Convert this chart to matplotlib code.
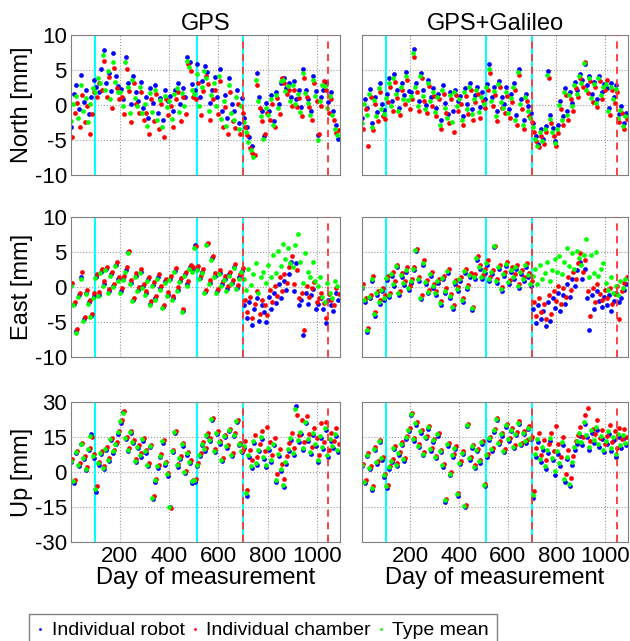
import matplotlib.pyplot as plt
from matplotlib.lines import Line2D

plt.rcParams['font.family'] = ['Liberation Sans', 'DejaVu Sans']
plt.rcParams['axes.unicode_minus'] = False

# sample days (one reading every 10 days, staggered per series)
days_robot = list(range(5, 1095, 10))
days_chamber = list(range(8, 1095, 10))
days_mean = list(range(2, 1092, 10))

# ---- North, GPS ----
north_gps_robot = [
    -3.2, 1.5, 2.8, -0.6, 4.3, 0.4, 2.1, -1.3, 1.2, 3.6,
    2.6, 1.8, 5.1, 7.9, 3.2, 4.6, 2.0, 7.4, 4.1, 2.7,
    2.3, 0.9, 6.9, 3.1, 0.2, 4.2, 1.8, 0.6, 3.3, -0.4,
    1.2, -1.8, 2.4, 0.3, 2.9, -1.1, 1.0, -2.2, 2.1, 0.5,
    1.3, -0.9, 2.2, 3.1, 0.1, 2.4, 1.1, 6.9, 6.2, 3.0,
    2.1, 5.8, 1.2, 3.4, 5.5, 4.7, 0.3, 2.2, 4.0, 1.1,
    5.2, -0.8, 1.4, -1.9, 3.8, 0.2, -0.9, 2.1, -2.6, 1.0,
    -1.8, -3.1, -4.6, -5.9, -7.2, 4.6, 1.2, -0.8, -4.4, 0.3,
    -0.9, 1.4, -2.3, 1.8, 0.2, 3.1, 3.9, 2.4, 3.2, 1.2,
    3.4, 0.8, 2.1, -0.3, 5.2, 2.2, 0.9, -0.9, 4.2, 2.0,
    -4.3, 1.1, 2.2, 3.3, 0.4, 1.9, -0.8, -2.9, -4.8]
north_gps_chamber = [
    -4.6, -1.2, 0.3, -3.1, 1.4, -2.4, -0.2, -4.2, -1.3, 1.8,
    1.1, 3.2, 2.1, 6.3, 1.2, 4.0, -0.4, 5.3, 2.4, 0.9,
    1.2, -1.3, 5.2, 2.0, -2.4, 3.1, 0.1, -1.2, 1.8, -2.1,
    -1.1, -4.2, 0.9, -2.3, 1.6, -3.4, 0.2, -4.6, 0.8, -1.4,
    -0.2, -3.1, 0.8, 1.9, -2.3, 1.1, -1.3, 5.9, 4.8, 1.2,
    0.9, 3.1, -1.4, 2.0, 4.1, 3.0, -2.2, 0.8, 2.2, -1.3,
    3.4, -3.2, -0.3, -4.1, 1.9, -2.3, -3.3, 0.2, -4.2, -1.1,
    -3.2, -4.3, -6.1, -6.8, -7.1, 2.9, -0.4, -2.3, -4.1, -1.2,
    -2.1, 0.2, -3.2, 1.0, -1.3, 3.8, 3.1, 1.6, 2.1, -0.2,
    2.2, -0.3, 1.0, -1.6, 3.9, 1.2, -0.3, -2.1, 3.1, 0.6,
    -4.2, -0.2, 3.4, 2.1, -1.2, 0.8, -2.1, -4.0, -3.6]
north_gps_mean = [
    -2.3, 0.2, 1.3, -1.9, 2.8, -0.9, 1.0, -2.4, 0.1, 2.4,
    1.9, 3.8, 3.2, 7.1, 2.1, 4.9, 0.8, 6.2, 3.3, 1.8,
    1.8, -0.1, 6.1, 2.5, -1.1, 3.5, 1.0, -0.2, 2.5, -1.2,
    0.1, -3.0, 1.7, -1.0, 2.1, -2.2, 0.7, -3.2, 1.3, -0.3,
    0.6, -2.0, 1.5, 2.4, -1.0, 1.7, -0.1, 6.3, 5.4, 2.1,
    1.5, 4.4, -0.1, 2.6, 4.8, 3.8, -0.9, 1.4, 3.2, -0.1,
    4.2, -2.0, 0.6, -3.0, 2.8, -1.1, -2.1, 1.1, -3.4, -0.1,
    -2.4, -3.8, -5.3, -6.4, -7.5, 3.6, 0.6, -1.6, -4.9, -0.4,
    -1.5, 0.8, -2.8, 1.4, -0.5, 3.4, 3.6, 2.0, 2.7, 0.5,
    2.9, 0.2, 1.6, -1.0, 4.6, 1.7, 0.3, -1.5, 3.6, 1.3,
    -5.0, 0.5, 2.8, 2.7, -0.4, 1.3, -1.4, -3.4, -4.3]

# ---- North, GPS+Galileo ----
north_gal_robot = [
    -1.9, 0.8, -0.4, 2.3, -2.6, 1.2, -1.0, 3.2, 0.2, -0.7,
    1.6, 3.8, 0.6, 4.4, 2.2, -0.4, 3.1, 1.4, 4.7, 2.0,
    1.8, 8.0, 3.2, 0.6, 4.6, 2.1, 0.0, 3.6, 1.2, 2.4,
    -0.4, 1.6, -2.1, 2.8, 0.3, -1.3, 1.9, -0.8, 2.2, 0.5,
    1.3, -1.6, 2.4, 0.2, 3.1, -0.6, 1.4, 2.6, -0.3, 1.8,
    0.9, 3.0, 5.8, 1.2, 2.6, -0.9, 3.4, 1.1, 0.2, 2.5,
    -0.6, 1.5, 3.1, -1.4, 5.1, 0.8, -2.1, 1.6, -0.2, -1.1,
    -2.6, -4.4, -5.6, -3.4, -4.8, -3.0, 4.9, -1.4, -3.3, -5.1,
    -2.9, 0.6, -1.6, 2.4, -0.8, 1.9, 0.3, 3.3, 2.1, 4.4,
    3.6, 5.9, 2.8, 4.1, 1.6, 3.3, 0.9, 4.2, 1.8, 3.0,
    2.4, -0.4, 3.1, 1.2, 2.8, -1.3, -0.2, -2.6, -1.1]
north_gal_chamber = [
    -3.4, -0.6, -5.9, 1.1, -3.6, 0.2, -2.3, 1.8, -1.6, -2.0,
    0.4, 2.6, -0.8, 3.3, 1.0, -1.5, 2.2, 0.1, 3.6, -0.6,
    0.9, 6.9, 1.8, -0.8, 3.8, 0.6, -1.2, 2.7, -0.1, 1.3,
    -1.6, 0.8, -3.4, 1.6, -1.1, -2.6, 0.9, -3.9, 1.4, -0.8,
    0.2, -2.9, 1.3, -1.3, 2.2, -2.1, 0.4, 1.6, -1.8, 0.6,
    -0.4, 2.1, 4.6, -0.2, 1.4, -2.3, 2.6, -0.4, -1.2, 1.3,
    -1.8, 0.4, 2.1, -2.8, 4.3, -0.6, -3.4, 0.5, -1.6, -2.4,
    -3.8, -5.2, -6.0, -4.4, -5.6, -3.9, 3.8, -2.6, -4.4, -5.8,
    -4.0, -0.6, -2.8, 1.4, -2.1, 0.9, -0.8, 2.4, 1.1, 3.8,
    2.6, 6.2, 1.7, 3.4, 0.4, 2.6, -0.3, 3.4, 0.9, 2.1,
    3.6, -1.4, 2.2, 0.3, 1.9, -2.4, -1.1, -3.4, -2.0]
north_gal_mean = [
    -2.6, 0.1, -1.4, 1.6, -3.1, 0.7, -1.6, 2.4, -0.6, -1.3,
    1.0, 3.2, -0.1, 3.9, 1.6, -0.9, 2.6, 0.8, 4.2, 0.7,
    1.3, 7.4, 2.6, -0.1, 4.2, 1.3, -0.6, 3.1, 0.5, 1.8,
    -1.0, 1.2, -2.8, 2.2, -0.4, -1.9, 1.4, -2.4, 1.8, -0.2,
    0.8, -2.2, 1.9, -0.6, 2.6, -1.3, 0.9, 2.1, -1.0, 1.2,
    0.2, 2.6, 5.2, 0.5, 2.0, -1.6, 3.0, 0.4, -0.5, 1.9,
    -1.2, 1.0, 2.6, -2.1, 4.7, 0.1, -2.8, 1.1, -0.9, -1.8,
    -3.2, -4.8, -5.8, -3.9, -5.2, -3.4, 4.3, -2.0, -3.9, -5.4,
    -3.4, 0.0, -2.2, 1.9, -1.4, 1.4, -0.2, 2.9, 1.6, 4.1,
    3.1, 6.0, 2.2, 3.8, 1.0, 3.0, 0.3, 3.8, 1.4, 2.6,
    3.0, -0.9, 2.6, 0.8, 2.3, -1.9, -0.7, -3.0, -1.6]

# ---- East, GPS ----
east_gps_robot = [
    0.3, -2.4, -6.3, -1.2, 1.4, -4.6, -0.8, -2.2, -4.1, -1.3,
    1.5, -1.1, 2.2, 0.4, 2.6, -0.6, 1.8, 0.2, 3.2, 1.1,
    -0.6, 1.2, 2.4, 5.0, 0.6, -1.8, 1.6, -0.4, 2.2, 0.1,
    -0.9, 1.1, -2.4, 0.3, -1.6, 1.4, -0.2, -2.8, 0.8, -1.1,
    1.2, -1.6, 2.3, -0.4, 0.9, -3.4, 1.8, 0.4, 2.8, 2.4,
    6.0, 2.6, 1.3, 2.2, -0.7, 6.2, 0.6, 4.1, 1.6, -0.6,
    2.0, 0.4, 1.2, -0.3, 1.8, 0.6, 2.9, -0.1, 1.4, 2.3,
    -2.6, -4.4, -2.2, -5.4, -3.2, -1.6, -4.8, -2.6, -3.6, -5.0,
    -1.4, -3.1, -0.8, -2.3, 0.4, -1.6, 0.9, -0.4, 1.8, 3.6,
    -0.6, 3.4, -2.6, -1.8, -6.8, -0.9, -2.4, -1.1, -0.3, -3.2,
    -2.4, -1.6, -3.1, -5.2, -1.8, -2.6, -3.4, -0.9, -1.8]
east_gps_chamber = [
    0.6, -2.1, -6.0, -0.9, 2.2, -4.3, -0.4, -1.8, -3.8, -0.9,
    1.9, -0.7, 2.6, 0.8, 2.9, -0.3, 2.2, 0.5, 3.6, 1.5,
    -0.2, 1.6, 2.8, 5.2, 1.0, -1.5, 2.0, 0.0, 2.6, 0.5,
    -0.5, 1.5, -2.0, 0.7, -1.3, 1.8, 0.2, -2.5, 1.2, -0.7,
    1.6, -1.3, 2.7, 0.0, 1.3, -3.1, 2.2, 0.8, 3.2, 2.8,
    5.8, 3.0, 1.7, 2.6, -0.4, 6.3, 1.0, 4.5, 2.0, -0.3,
    2.4, 0.8, 1.6, 0.1, 2.2, 1.0, 3.3, 0.3, 1.8, 2.7,
    -1.8, -3.6, -1.4, -4.4, -2.4, -0.6, -3.8, -1.8, -2.6, -4.0,
    -0.4, -2.1, 0.2, -1.3, 1.4, -0.6, 1.9, 0.6, 2.8, 4.4,
    0.4, 2.4, -1.6, -0.8, -6.2, 0.1, -1.4, -0.1, 0.7, -2.2,
    -1.6, -0.8, -2.3, -4.4, -1.0, -1.8, -2.6, -0.1, -1.0]
east_gps_mean = [
    0.1, -2.6, -6.5, -1.4, 1.2, -4.8, -1.0, -2.4, -4.3, -1.5,
    1.3, -1.3, 2.0, 0.2, 2.4, -0.8, 1.6, 0.0, 3.0, 0.9,
    -0.8, 1.0, 2.2, 4.8, 0.4, -2.0, 1.4, -0.6, 2.0, -0.1,
    -1.1, 0.9, -2.6, 0.1, -1.8, 1.2, -0.4, -3.0, 0.6, -1.3,
    1.0, -1.8, 2.1, -0.6, 0.7, -3.6, 1.6, 0.2, 2.6, 2.2,
    5.6, 2.4, 1.1, 2.0, -0.9, 6.0, 0.4, 3.9, 1.4, -0.8,
    1.8, 0.2, 1.0, -0.5, 1.6, 0.4, 2.7, -0.3, 1.2, 2.1,
    1.2, -0.4, 2.6, 0.3, 1.8, 3.4, -0.8, 1.4, 2.2, 0.6,
    3.2, 1.4, 4.6, 2.0, 5.2, 3.0, 6.2, 4.0, 5.6, 3.4,
    2.8, 6.0, 7.5, 3.6, 0.6, 4.8, 2.2, 1.4, 3.6, 0.8,
    0.2, 1.4, -1.4, -2.1, 0.6, -0.8, -1.6, 0.9, 0.2]

# ---- East, GPS+Galileo ----
east_gal_robot = [
    -0.2, -2.1, -6.4, -1.6, 0.8, -4.2, -1.1, -2.4, -0.6, -1.8,
    1.0, -1.4, 1.6, 0.2, 2.8, -1.1, 1.4, 0.3, 2.2, -0.4,
    0.6, 2.4, 5.2, 0.8, -1.7, 3.2, 0.4, -0.9, 1.6, -0.2,
    -1.2, 0.6, -2.6, 1.1, -0.8, 2.0, -1.6, -3.1, 0.4, -0.6,
    0.8, -2.2, 2.0, -0.3, 1.4, -3.3, 1.2, 3.8, 2.6, 1.1,
    2.0, 3.2, 0.8, 1.8, 5.7, 0.6, 2.6, -0.6, 1.6, 3.0,
    0.4, 2.2, 1.2, 2.6, -0.2, 1.8, 0.8, 2.8, 1.4, 0.2,
    -3.2, -5.2, -2.6, -4.6, -3.4, -5.6, -2.2, -4.8, -1.6, -3.0,
    -0.8, -3.4, -1.2, -2.4, 0.4, -1.4, 1.2, 0.2, 2.4, 3.6,
    1.2, 2.6, -1.6, -6.2, -1.2, -3.2, -0.6, -2.0, -2.8, -1.4,
    -2.6, -1.2, -3.4, -2.0, -0.8, -2.2, -1.6, -0.4, 0.4]
east_gal_chamber = [
    0.4, -1.6, -5.8, -1.1, 1.6, -3.6, -0.6, -1.9, -0.1, -1.2,
    1.6, -0.9, 2.2, 0.8, 3.2, -0.5, 2.0, 0.9, 2.8, 0.1,
    1.2, 2.9, 5.4, 1.4, -1.2, 3.8, 1.0, -0.4, 2.2, 0.4,
    -0.6, 1.2, -2.0, 1.6, -0.2, 2.6, -1.0, -2.6, 1.0, 0.0,
    1.4, -1.6, 2.6, 0.3, 2.0, -2.8, 1.8, 4.4, 3.2, 1.7,
    2.6, 3.8, 1.4, 2.4, 5.9, 1.2, 3.2, 0.0, 2.2, 3.6,
    1.0, 2.8, 1.8, 3.2, 0.4, 2.4, 1.4, 3.4, 2.0, 0.8,
    -2.2, -4.2, -1.6, -3.6, -2.4, -4.6, -1.2, -3.8, -0.6, -2.0,
    0.2, -2.4, -0.2, -1.4, 1.4, -0.4, 2.2, 1.2, 3.4, 4.8,
    2.2, 3.8, -0.6, -4.2, -0.2, -2.2, 0.4, -1.0, -1.8, -0.4,
    -1.6, -0.2, -2.4, -1.0, 0.2, -4.6, -0.6, 0.6, 1.4]
east_gal_mean = [
    0.0, -1.9, -6.1, -1.4, 1.2, -3.9, -0.9, -2.2, -0.4, -1.5,
    1.3, -1.2, 1.9, 0.5, 3.0, -0.8, 1.7, 0.6, 2.5, -0.2,
    0.9, 2.6, 5.3, 1.1, -1.5, 3.5, 0.7, -0.7, 1.9, 0.1,
    -0.9, 0.9, -2.3, 1.3, -0.5, 2.3, -1.3, -2.9, 0.7, -0.3,
    1.1, -1.9, 2.3, 0.0, 1.7, -3.0, 1.5, 4.1, 2.9, 1.4,
    2.3, 3.5, 1.1, 2.1, 5.8, 0.9, 2.9, -0.3, 1.9, 3.3,
    0.7, 2.5, 1.5, 2.9, 0.1, 2.1, 1.1, 3.1, 1.7, 0.5,
    1.6, 2.6, 0.4, 3.2, 1.2, 2.0, 3.6, 0.8, 2.4, 4.0,
    2.2, 4.4, 1.8, 3.6, 5.6, 3.0, 4.8, 2.6, 5.2, 4.2,
    3.2, 4.6, 6.8, 1.4, 4.6, 2.0, 5.0, 1.6, 2.6, 3.4,
    0.6, -0.4, 1.4, -0.8, 0.2, -1.2, 0.8, -0.2, 1.2]

# ---- Up, GPS ----
up_gps_robot = [
    4.2, -4.8, 8.1, 2.4, 11.8, 5.6, 0.8, 9.4, 16.2, 6.1,
    -8.6, 3.2, 7.6, 1.2, 9.4, 4.6, 13.6, 8.2, 11.8, 16.4,
    21.2, 25.6, 14.2, 8.8, 16.8, 12.4, 4.2, 10.2, 6.6, 13.4,
    8.2, 2.6, 10.8, -11.4, -4.2, 1.8, 6.4, 12.6, 3.2, -1.6,
    -14.8, 8.4, 16.8, 2.2, 5.6, 11.2, -0.6, 7.4, 3.8, -4.6,
    -4.2, 2.6, 6.8, 11.6, 9.2, 15.4, 13.2, 22.4, 8.6, 16.2,
    12.2, 4.6, 14.8, 10.4, 17.6, 6.8, 15.4, 21.6, 11.4, 8.4,
    10.2, -10.2, 6.4, 1.8, 12.6, 3.2, 8.8, 14.2, 5.6, 2.0,
    9.6, 4.2, 11.4, -4.2, 6.8, 0.4, -6.4, 3.6, 9.2, 13.6,
    7.2, 28.2, 12.8, 16.4, 9.6, 20.8, 13.2, 7.6, 15.8, 11.2,
    4.2, 14.6, 9.8, 18.2, 6.4, 13.4, 10.2, 15.6, 8.6]
up_gps_chamber = [
    5.6, -3.4, 9.2, 3.8, 12.6, 7.0, 2.2, 10.4, 14.8, 7.6,
    -6.2, 4.4, 8.8, 2.6, 10.6, 6.0, 14.4, 9.6, 12.8, 17.6,
    22.4, 26.2, 15.2, 10.2, 17.6, 13.6, 5.4, 11.4, 8.0, 14.6,
    9.4, 3.8, 11.6, -10.4, -3.0, 3.2, 7.6, 13.8, 4.4, -0.4,
    -15.4, 9.6, 17.4, 3.4, 6.8, 12.4, 0.6, 8.6, 5.0, -3.4,
    -3.0, 3.8, 8.0, 12.8, 10.4, 16.6, 14.4, 23.2, 9.8, 17.4,
    13.4, 5.8, 15.8, 11.6, 18.6, 8.0, 16.6, 22.4, 12.6, 9.6,
    13.4, -7.6, 9.6, 5.0, 15.8, 6.4, 12.0, 17.4, 8.8, 19.2,
    12.8, 7.4, 14.6, -1.0, 10.0, 3.6, -3.2, 6.8, 12.4, 16.8,
    10.4, 24.6, 16.0, 22.4, 12.8, 24.0, 16.4, 10.8, 19.0, 14.4,
    7.4, 20.8, 13.0, 21.4, 9.6, 16.6, 13.4, 18.8, 11.8]
up_gps_mean = [
    4.8, -4.0, 8.6, 3.0, 12.2, 6.2, 1.4, 9.8, 15.6, 6.8,
    -7.4, 3.8, 8.2, 1.8, 10.0, 5.2, 14.0, 8.8, 12.2, 17.0,
    21.8, 25.2, 14.6, 9.4, 17.2, 13.0, 4.8, 10.8, 7.2, 14.0,
    8.8, 3.2, 11.2, -11.0, -3.6, 2.4, 7.0, 13.2, 3.8, -1.0,
    -15.0, 9.0, 17.0, 2.8, 6.2, 11.8, 0.0, 8.0, 4.4, -4.0,
    -3.6, 3.2, 7.4, 12.2, 9.8, 16.0, 13.8, 22.8, 9.2, 16.8,
    12.8, 5.2, 15.4, 11.0, 18.2, 7.4, 16.0, 22.0, 12.0, 9.0,
    11.0, -9.0, 7.2, 2.6, 13.4, 4.0, 9.6, 15.0, 6.4, 2.8,
    10.4, 5.0, 12.2, -3.4, 7.6, 1.2, -5.6, 4.4, 10.0, 14.4,
    8.0, 27.0, 13.6, 17.2, 10.4, 21.6, 14.0, 8.4, 16.6, 12.0,
    5.0, 15.4, 10.6, 19.0, 7.2, 14.2, 11.0, 16.4, 9.4]

# ---- Up, GPS+Galileo ----
up_gal_robot = [
    2.4, -4.8, 6.8, 1.2, -7.6, 9.4, 3.6, 12.8, 5.2, -2.0,
    -6.8, 1.4, 4.2, 9.8, 2.6, 7.4, 11.6, 4.8, 14.2, 17.6,
    24.6, 13.4, 20.2, 10.6, 16.8, 7.2, 14.4, 18.6, 9.2, 13.0,
    5.8, 15.6, 8.4, 2.2, -12.8, 11.2, -1.4, 6.6, 9.8, -10.2,
    3.4, 7.6, -15.2, 19.6, 5.2, 10.4, 1.6, 8.8, 4.0, 12.2,
    -6.2, 6.6, 13.8, 9.2, 17.2, 22.4, 12.0, 15.6, 8.6, 19.4,
    13.4, 17.6, 10.2, 15.8, 20.6, 11.4, 16.2, 12.6, 18.4, 14.0,
    -11.2, 6.4, 12.8, 4.2, 9.6, 1.4, 8.2, 13.2, 5.0, -1.2,
    7.8, 2.6, 11.6, -4.2, 5.4, -6.2, 3.0, 9.4, 12.2, 15.6,
    11.6, 20.4, 14.8, 9.6, 16.8, 12.4, 18.2, 10.6, 14.2, 8.4,
    12.2, 16.4, 9.2, 13.6, 6.6, 15.2, 10.4, 14.6, 11.4]
up_gal_chamber = [
    3.6, -3.6, 8.0, 2.4, -6.2, 10.6, 4.8, 13.6, 6.4, -0.8,
    -5.6, 2.6, 5.4, 11.0, 3.8, 8.6, 12.8, 6.0, 15.4, 18.8,
    25.4, 14.6, 21.4, 11.8, 18.0, 8.4, 15.6, 19.8, 10.4, 14.2,
    7.0, 16.8, 9.6, 3.4, -11.6, 12.4, -0.2, 7.8, 11.0, -9.0,
    4.6, 8.8, -14.0, 20.4, 6.4, 11.6, 2.8, 10.0, 5.2, 13.4,
    -5.0, 7.8, 15.0, 10.4, 18.4, 23.2, 13.2, 16.8, 9.8, 20.6,
    14.6, 18.8, 11.4, 17.0, 21.8, 12.6, 17.4, 13.8, 19.6, 15.2,
    -8.0, 10.4, 16.6, 7.4, 13.6, 5.0, 12.2, 16.8, 9.0, 19.6,
    11.8, 6.4, 15.2, -1.0, 9.4, -2.6, 7.0, 13.4, 16.0, 19.2,
    15.2, 24.4, 27.4, 13.4, 18.6, 16.2, 22.2, 14.4, 18.0, 12.2,
    15.6, 20.2, 12.8, 17.4, 10.4, 19.0, 14.2, 18.4, 15.2]
up_gal_mean = [
    3.0, -4.2, 7.4, 1.8, -6.9, 10.0, 4.2, 13.2, 5.8, -1.4,
    -6.2, 2.0, 4.8, 10.4, 3.2, 8.0, 12.2, 5.4, 14.8, 18.2,
    25.0, 14.0, 20.8, 11.2, 17.4, 7.8, 15.0, 19.2, 9.8, 13.6,
    6.4, 16.2, 9.0, 2.8, -12.2, 11.8, -0.8, 7.2, 10.4, -9.6,
    4.0, 8.2, -14.6, 20.0, 5.8, 11.0, 2.2, 9.4, 4.6, 12.8,
    -5.6, 7.2, 14.4, 9.8, 17.8, 22.8, 12.6, 16.2, 9.2, 20.0,
    14.0, 18.2, 10.8, 16.4, 21.2, 12.0, 16.8, 13.2, 19.0, 14.6,
    -9.8, 7.6, 14.0, 5.4, 10.8, 2.6, 9.4, 14.4, 6.2, 0.4,
    9.0, 3.8, 12.8, -3.0, 6.6, -5.0, 4.2, 10.6, 13.4, 16.8,
    12.8, 21.6, 16.0, 10.8, 18.0, 13.6, 19.4, 11.8, 15.4, 9.6,
    13.4, 17.6, 10.4, 14.8, 7.8, 16.4, 11.6, 15.8, 12.6]

# event days
cyan_days = [100, 512, 700]
red_days = [700, 1046]

col_titles = ['GPS', 'GPS+Galileo']
row_labels = ['North [mm]', 'East [mm]', 'Up [mm]']
row_ticks = [[-10, -5, 0, 5, 10], [-10, -5, 0, 5, 10], [-30, -15, 0, 15, 30]]
x_ticks = [200, 400, 600, 800, 1000]
series_names = ['Individual robot', 'Individual chamber', 'Type mean']
series_colors = ['#0000ff', '#ff0000', '#00ff00']
series_days = [days_robot, days_chamber, days_mean]

panels = [
    [(north_gps_robot, north_gps_chamber, north_gps_mean),
     (north_gal_robot, north_gal_chamber, north_gal_mean)],
    [(east_gps_robot, east_gps_chamber, east_gps_mean),
     (east_gal_robot, east_gal_chamber, east_gal_mean)],
    [(up_gps_robot, up_gps_chamber, up_gps_mean),
     (up_gal_robot, up_gal_chamber, up_gal_mean)],
]

W, H = 630, 641
fig = plt.figure(figsize=(W / 100, H / 100), dpi=100)

lefts = [71, 362]
widths = [269, 266]
tops = [35, 217, 402]
height = 140

for r in range(3):
    for c in range(2):
        ax = fig.add_axes([lefts[c] / W, 1 - (tops[r] + height) / H,
                           widths[c] / W, height / H])
        for d in cyan_days:
            ax.axvline(d, color='#00ffff', lw=1.5, zorder=1)
        for dd, vals, col in zip(series_days, panels[r][c], series_colors):
            ax.plot(dd, vals, 'o', color=col, ms=3.4, mew=0, zorder=2)
        for d in red_days:
            ax.axvline(d, color='#ff3333', lw=1.3, ls=(0, (4, 3)), zorder=3)
        ax.set_xlim(3, 1093)
        lim = row_ticks[r]
        ax.set_ylim(lim[0], lim[-1])
        ax.set_yticks(lim)
        ax.set_xticks(x_ticks)
        ax.grid(True, ls=':', color='#999999', lw=0.8)
        ax.set_axisbelow(True)
        for s in ax.spines.values():
            s.set_color('#808080')
        ax.tick_params(length=0, labelsize=16, pad=3)
        if c == 1:
            ax.tick_params(labelleft=False)
        else:
            ax.set_ylabel(row_labels[r], fontsize=17)
            ax.yaxis.set_label_coords(-0.14, 0.5)
        if r < 2:
            ax.tick_params(labelbottom=False)
        else:
            ax.set_xlabel('Day of measurement', fontsize=17, labelpad=0)
        if r == 0:
            ax.set_title(col_titles[c], fontsize=17, pad=3)

handles = [Line2D([], [], ls='none', marker='o', ms=2, mew=0, color=col)
           for col in series_colors]
fig.legend(handles, series_names, loc='upper center', ncol=3,
           bbox_to_anchor=(263 / W, 1 - 614 / H), fontsize=14,
           frameon=True, fancybox=False, edgecolor='#808080',
           framealpha=1, handlelength=0.3, handletextpad=0.45,
           columnspacing=0.35, borderpad=0.4, borderaxespad=0)

fig.savefig('out.png', dpi=100)
